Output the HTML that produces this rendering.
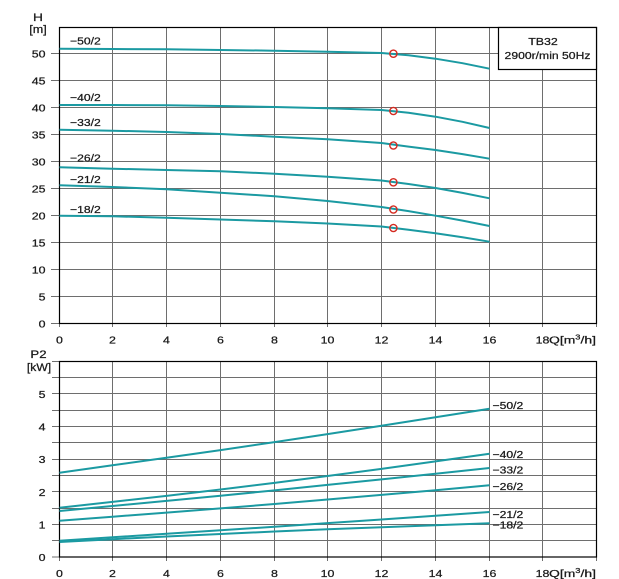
<!DOCTYPE html>
<html><head><meta charset="utf-8"><style>
html,body{margin:0;padding:0;background:#fff;}
svg{display:block;}
text{font-family:"Liberation Sans",Arial,sans-serif;font-size:10.5px;fill:#1a1a1a;stroke:#1a1a1a;stroke-width:0.25;}
</style></head><body>
<svg width="619" height="579" viewBox="0 0 619 579" xmlns="http://www.w3.org/2000/svg">
<rect width="619" height="579" fill="#fff"/>

<!-- ===== TOP CHART ===== -->
<g stroke="#6e6e6e" stroke-width="1" fill="none">
  <path d="M112.5 27.5V327 M166.5 27.5V327 M220.5 27.5V327 M274.5 27.5V327 M327.5 27.5V327 M381.5 27.5V327 M435.5 27.5V327 M489.5 27.5V327 M542.5 27.5V327 M596.5 323.5V327 M59.5 323.5V327"/>
  <path d="M51 296.5H596 M51 269.5H596 M51 242.5H596 M51 215.5H596 M51 188.5H596 M51 161.5H596 M51 134.5H596 M51 107.5H596 M51 80.5H596 M51 53.5H596 M51 323.5H59"/>
</g>
<rect x="59.5" y="27.5" width="537" height="296" fill="none" stroke="#000" stroke-width="1.2"/>

<!-- legend box -->
<rect x="498.5" y="27.5" width="98" height="42" fill="#fff" stroke="#000" stroke-width="1.2"/>
<text transform="translate(543,45) scale(1.18,1)" text-anchor="middle">TB32</text>
<text transform="translate(547.5,59) scale(1.16,1)" text-anchor="middle">2900r/min 50Hz</text>

<!-- H curves -->
<g fill="none" stroke="#1b9aa2" stroke-width="2" stroke-linejoin="round" stroke-linecap="butt">
  <polyline points="59.5,48.7 112.5,49 166.5,49.3 220.5,50 274.5,50.7 327.5,51.7 381.5,53 408.5,55.3 435.5,58.7 462.5,63.2 489.5,68.7"/>
  <polyline points="59.5,105 112.5,105 166.5,105.3 220.5,106 274.5,107 327.5,108.3 381.5,110 408.5,112.8 435.5,116.7 462.5,121.8 489.5,128"/>
  <polyline points="59.5,129.7 112.5,130.7 166.5,132 220.5,134 274.5,136.7 327.5,139.3 381.5,143 408.5,146.6 435.5,150 462.5,154.1 489.5,158.7"/>
  <polyline points="59.5,167.3 112.5,168.7 166.5,170 220.5,171.3 274.5,173.7 327.5,176.7 381.5,180.5 408.5,184 435.5,188 462.5,192.9 489.5,198.3"/>
  <polyline points="59.5,185.3 112.5,187 166.5,189.3 220.5,192.7 274.5,196.3 327.5,201 381.5,207 408.5,211.1 435.5,215.7 462.5,220.6 489.5,226"/>
  <polyline points="59.5,215.7 112.5,216.3 166.5,217.7 220.5,219.5 274.5,221.3 327.5,223.5 381.5,226.5 408.5,229.7 435.5,233.3 462.5,237.3 489.5,241.7"/>
</g>
<g fill="none" stroke="#d42a20" stroke-width="1.4">
  <circle cx="393.4" cy="53.7" r="3.6"/>
  <circle cx="393.4" cy="111" r="3.6"/>
  <circle cx="393.4" cy="145.5" r="3.6"/>
  <circle cx="393.4" cy="182.3" r="3.6"/>
  <circle cx="393.4" cy="209.5" r="3.6"/>
  <circle cx="393.4" cy="228" r="3.6"/>
</g>

<!-- top curve labels -->
<text transform="translate(70,44.5) scale(1.16,1)">−50/2</text>
<text transform="translate(70,100.8) scale(1.16,1)">−40/2</text>
<text transform="translate(70,125.8) scale(1.16,1)">−33/2</text>
<text transform="translate(70,161.6) scale(1.16,1)">−26/2</text>
<text transform="translate(70,183) scale(1.16,1)">−21/2</text>
<text transform="translate(70,212.8) scale(1.16,1)">−18/2</text>

<!-- top axis labels -->
<text transform="translate(38,20.8) scale(1.25,1)" text-anchor="middle" style="font-size:11px">H</text>
<text transform="translate(38,33) scale(1.15,1)" text-anchor="middle" style="font-size:11px">[m]</text>
<g text-anchor="end">
  <text transform="translate(45.5,57.6) scale(1.18,1)">50</text>
  <text transform="translate(45.5,84.6) scale(1.18,1)">45</text>
  <text transform="translate(45.5,111.6) scale(1.18,1)">40</text>
  <text transform="translate(45.5,138.6) scale(1.18,1)">35</text>
  <text transform="translate(45.5,165.6) scale(1.18,1)">30</text>
  <text transform="translate(45.5,192.6) scale(1.18,1)">25</text>
  <text transform="translate(45.5,219.6) scale(1.18,1)">20</text>
  <text transform="translate(45.5,246.6) scale(1.18,1)">15</text>
  <text transform="translate(45.5,273.6) scale(1.18,1)">10</text>
  <text transform="translate(45.5,300.6) scale(1.18,1)">5</text>
  <text transform="translate(45.5,327.6) scale(1.18,1)">0</text>
</g>
<g text-anchor="middle">
  <text transform="translate(59.5,343.3) scale(1.18,1)">0</text>
  <text transform="translate(112.5,343.3) scale(1.18,1)">2</text>
  <text transform="translate(166.5,343.3) scale(1.18,1)">4</text>
  <text transform="translate(220.5,343.3) scale(1.18,1)">6</text>
  <text transform="translate(274.5,343.3) scale(1.18,1)">8</text>
  <text transform="translate(327.5,343.3) scale(1.18,1)">10</text>
  <text transform="translate(381.5,343.3) scale(1.18,1)">12</text>
  <text transform="translate(435.5,343.3) scale(1.18,1)">14</text>
  <text transform="translate(489.5,343.3) scale(1.18,1)">16</text>
  <text transform="translate(542.5,343.3) scale(1.18,1)">18</text>
</g>
<text x="549" y="343.3" textLength="47" lengthAdjust="spacingAndGlyphs">Q[m<tspan font-size="7" dy="-4">3</tspan><tspan dy="4">/h]</tspan></text>

<!-- ===== BOTTOM CHART ===== -->
<g stroke="#6e6e6e" stroke-width="1" fill="none">
  <path d="M112.5 361.5V561 M166.5 361.5V561 M220.5 361.5V561 M274.5 361.5V561 M327.5 361.5V561 M381.5 361.5V561 M435.5 361.5V561 M489.5 361.5V561 M542.5 361.5V561 M596.5 557V561 M59.5 557V561"/>
  <path d="M52 540.5H596 M52 524.5H596 M52 508.5H596 M52 491.5H596 M52 475.5H596 M52 459.5H596 M52 442.5H596 M52 426.5H596 M52 410.5H596 M52 393.5H596 M52 377.5H596 M52 361.5H59 M52 557H59"/>
</g>
<rect x="59.5" y="361.5" width="537" height="195.5" fill="none" stroke="#000" stroke-width="1.2"/>

<g fill="none" stroke="#1b9aa2" stroke-width="2" stroke-linejoin="round">
  <polyline points="59.5,472.7 112.5,465.3 166.5,457.8 220.5,450.1 274.5,442.1 327.5,434.1 381.5,425.8 435.5,417.3 489.5,408.7"/>
  <polyline points="59.5,507.7 112.5,501.9 166.5,495.9 220.5,489.5 274.5,482.9 327.5,476 381.5,468.9 435.5,461.4 489.5,453.7"/>
  <polyline points="59.5,511 112.5,506 166.5,500.9 220.5,495.7 274.5,490.4 327.5,484.9 381.5,479.4 435.5,473.8 489.5,468"/>
  <polyline points="59.5,520.7 112.5,516.7 166.5,512.6 220.5,508.4 274.5,504 327.5,499.5 381.5,494.9 435.5,490.2 489.5,485.3"/>
  <polyline points="59.5,540.7 112.5,537.3 166.5,533.8 220.5,530.3 274.5,526.7 327.5,523.1 381.5,519.5 435.5,515.8 489.5,512"/>
  <polyline points="59.5,542 112.5,539.2 166.5,536.5 220.5,534 274.5,531.5 327.5,529.3 381.5,527.2 435.5,525.2 489.5,523.3"/>
</g>

<text transform="translate(492.5,409) scale(1.16,1)">−50/2</text>
<text transform="translate(492.5,458) scale(1.16,1)">−40/2</text>
<text transform="translate(492.5,473.4) scale(1.16,1)">−33/2</text>
<text transform="translate(492.5,490) scale(1.16,1)">−26/2</text>
<text transform="translate(492.5,518.2) scale(1.16,1)">−21/2</text>
<text transform="translate(492.5,528.4) scale(1.16,1)">−18/2</text>

<text transform="translate(38.5,357.8) scale(1.2,1)" text-anchor="middle" style="font-size:11px">P2</text>
<text transform="translate(39,370.8) scale(1.1,1)" text-anchor="middle" style="font-size:11px">[kW]</text>
<g text-anchor="end">
  <text transform="translate(45.5,398) scale(1.18,1)">5</text>
  <text transform="translate(45.5,430.6) scale(1.18,1)">4</text>
  <text transform="translate(45.5,463.2) scale(1.18,1)">3</text>
  <text transform="translate(45.5,495.8) scale(1.18,1)">2</text>
  <text transform="translate(45.5,528.4) scale(1.18,1)">1</text>
  <text transform="translate(45.5,561) scale(1.18,1)">0</text>
</g>
<g text-anchor="middle">
  <text transform="translate(59.5,577) scale(1.18,1)">0</text>
  <text transform="translate(112.5,577) scale(1.18,1)">2</text>
  <text transform="translate(166.5,577) scale(1.18,1)">4</text>
  <text transform="translate(220.5,577) scale(1.18,1)">6</text>
  <text transform="translate(274.5,577) scale(1.18,1)">8</text>
  <text transform="translate(327.5,577) scale(1.18,1)">10</text>
  <text transform="translate(381.5,577) scale(1.18,1)">12</text>
  <text transform="translate(435.5,577) scale(1.18,1)">14</text>
  <text transform="translate(489.5,577) scale(1.18,1)">16</text>
  <text transform="translate(542.5,577) scale(1.18,1)">18</text>
</g>
<text x="549" y="577" textLength="47" lengthAdjust="spacingAndGlyphs">Q[m<tspan font-size="7" dy="-4">3</tspan><tspan dy="4">/h]</tspan></text>
</svg>
</body></html>
